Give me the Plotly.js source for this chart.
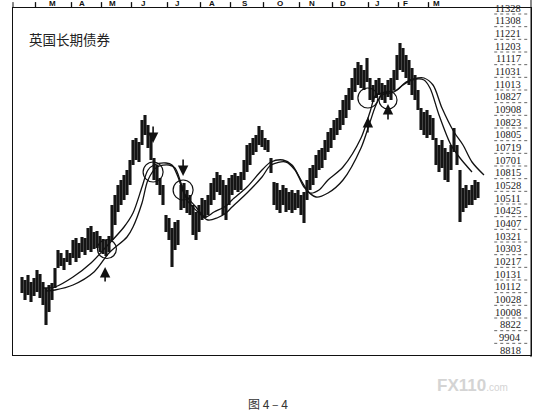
<!DOCTYPE html>
<html><head><meta charset="utf-8">
<script src="https://cdn.plot.ly/plotly-3.0.1.min.js"></script>
<style>html,body{margin:0;padding:0;background:#fff}#chart{width:546px;height:414px}</style>
</head><body><div id="chart"></div>
<script>
// Month letters along the top, month boundaries (bar index), label positions (bar index)
const months = ['M','A','M','J','J','A','S','O','N','D','J','F','M'];
const monthStart = [4.5,16.5,26.5,36.5,48.5,59.5,69.5,80.5,92.5,103.5,115.5,125.5,135.5];
const monthLabelAt = [10,20,30.3,40.3,51.7,63.3,74.3,86,96.7,107,118.3,127.7,138.3];

// Right-hand price column (top to bottom, as printed)
const priceLabels = ['11328','11308','11221','11203','11117','11031','11013','10827','10908','10823','10805','10719','10701','10815','10528','10511','10425','10407','10321','10303','10217','10131','10112','10028','10008','8822','9904','8818'];

// Bar highs / lows (chart units), one bar per index
const highs = [78,75,80,73,77,85,81,73,67,70,
72,87,105,102,97,105,102,115,117,112,
118,117,127,129,123,124,119,116,115,119,
150,160,170,175,180,185,195,215,217,213,
235,240,230,220,197,190,177,170,140,137,
127,133,135,170,172,165,160,150,143,150,
157,155,160,172,177,183,180,175,170,177,
180,182,179,183,195,210,212,217,220,229,
225,217,215,197,173,172,165,170,167,163,
165,162,165,160,163,175,187,190,200,205,
207,215,223,227,235,237,245,255,260,267,
277,287,293,290,285,297,277,270,275,277,
272,270,275,277,285,300,312,307,300,295,
287,280,265,247,243,245,240,237,217,210,
215,207,203,210,227,210,185,167,170,165,
170,175,173];
const lows = [62,55,60,53,59,63,57,50,30,43,
55,67,87,89,85,93,90,97,93,97,
103,100,105,103,106,107,103,101,99,103,
115,130,143,150,155,160,170,190,195,193,
210,220,207,195,175,170,160,150,123,115,
88,105,110,145,147,142,140,120,115,123,
135,137,140,150,155,163,160,140,135,150,
160,165,163,165,175,183,190,200,203,210,
208,205,203,182,150,145,142,150,143,145,
142,145,147,140,132,155,165,170,177,185,
187,195,203,207,215,220,225,230,237,245,
255,263,270,267,265,273,255,253,257,260,
255,252,258,255,265,275,285,283,277,270,
260,255,245,225,220,217,220,215,190,183,
187,175,173,185,203,190,133,143,147,150,
150,155,157];

// Two moving averages
const maAx = [7,11,17,23,28,34,37,40,42,44,48,50,52,54,58,61,64,68,70,75,80,83,87,90,93,96,99,102,107,113,116,118,122,125,128,132,134,137,140,144,147,150,154];
const maAv = [67,68,78,92,108,128,142,168,185,190,192,190,178,162,148,138,143,149,155,168,185,193,195,190,175,162,165,175,188,217,243,260,263,265,273,277,277,270,247,223,210,193,180];
const maBx = [8,11,17,24,29,35,37,40,42,45,49,51,53,55,59,62,65,68,70,75,80,83,88,91,94,98,102,107,113,116,118,120,124,127,130,134,136,139,143,146,150];
const maBv = [64,65,70,83,102,118,128,152,175,188,190,187,172,155,142,135,137,142,148,162,178,190,193,185,168,158,162,175,207,233,250,260,263,270,275,275,267,240,210,197,183];

// Circles and arrows drawn on the chart
const circX = [28.3,43.7,53.7,115.3,122];
const circV = [106,183,165,257,255];
const circR = [9.5,10,10,10,9];
const arrowX = [27.7,43.7,53.7,115.3,122];
const arrowHead = [88,212,179,238,251];
const arrowTail = [72,230,197,221,234];

const title = '英国长期债券';
const caption = '图 4 – 4';

// ---- build ----
const bx = [], by = [];
highs.forEach((h, i) => { bx.push(i, i, null); by.push(lows[i], h, null); });

const traces = [
  {x: bx, y: by, type: 'scatter', mode: 'lines', line: {color: '#151515', width: 3.1}, hoverinfo: 'skip', showlegend: false},
  {x: maAx, y: maAv, type: 'scatter', mode: 'lines', line: {color: '#111', width: 1.3, shape: 'spline', smoothing: 0.9}, showlegend: false},
  {x: maBx, y: maBv, type: 'scatter', mode: 'lines', line: {color: '#111', width: 1.3, shape: 'spline', smoothing: 0.9}, showlegend: false}
];

const pxPerX = 3; // plot width 518 px over 172.667 units
const shapes = [];
circX.forEach((cx, i) => {
  const r = circR[i];
  shapes.push({type: 'circle', xref: 'x', yref: 'y', x0: cx - r / pxPerX, x1: cx + r / pxPerX, y0: circV[i] - r, y1: circV[i] + r, line: {color: '#111', width: 1.2}});
});
const labelPos = priceLabels.map((_, i) => 347 - (342 / 27) * i);
labelPos.forEach((v, i) => {
  if (i < labelPos.length - 1) shapes.push({type: 'line', xref: 'paper', yref: 'y', x0: 0.929, x1: 0.994, y0: v - 6, y1: v - 6, line: {color: '#666', width: 1, dash: 'dot'}});
});
monthStart.forEach(m => shapes.push({type: 'line', xref: 'x', yref: 'paper', x0: m, x1: m, y0: 1, y1: 1.017, line: {color: '#111', width: 1.3}}));
shapes.push({type: 'line', xref: 'paper', yref: 'paper', x0: 1, x1: 1, y0: -0.006, y1: 1.023, line: {color: '#111', width: 1}});
shapes.push({type: 'line', xref: 'paper', yref: 'paper', x0: 0, x1: 0, y0: 1, y1: 1.017, line: {color: '#111', width: 1}});

const annotations = [];
months.forEach((m, i) => annotations.push({x: monthLabelAt[i], xref: 'x', y: 1, yref: 'paper', yanchor: 'bottom', yshift: -2, text: m, showarrow: false, font: {family: 'Liberation Sans, Arial, sans-serif', size: 8, color: '#111', weight: 'bold'}}));
priceLabels.forEach((t, i) => annotations.push({x: 0.985, xref: 'paper', xanchor: 'right', y: labelPos[i], yref: 'y', yanchor: 'middle', text: t, showarrow: false, font: {family: 'Liberation Serif, Times New Roman, serif', size: 10.5, color: '#222'}}));
arrowX.forEach((x, i) => annotations.push({x: x, y: arrowHead[i], ax: x, ay: arrowTail[i], xref: 'x', yref: 'y', axref: 'x', ayref: 'y', text: '', showarrow: true, arrowhead: 2, arrowsize: 1.3, arrowwidth: 1.6, arrowcolor: '#111', standoff: 0}));
annotations.push({x: 0.027, xref: 'paper', xanchor: 'left', y: 0.911, yref: 'paper', yanchor: 'middle', text: title, showarrow: false, font: {family: 'Noto Sans CJK SC, sans-serif', size: 13.5, color: '#222'}});
annotations.push({x: 0.4923, xref: 'paper', xanchor: 'center', y: -0.141, yref: 'paper', yanchor: 'middle', text: caption, showarrow: false, font: {family: 'Noto Sans CJK SC, sans-serif', size: 12, color: '#333'}});
annotations.push({x: 0.888, xref: 'paper', xanchor: 'center', y: -0.0865, yref: 'paper', yanchor: 'middle', text: '<b>FX110</b><span style="font-size:10px">.com</span>', showarrow: false, font: {family: 'Liberation Sans, Arial, sans-serif', size: 17, color: '#d4d4d4'}});

const layout = {
  width: 546, height: 414,
  margin: {l: 13, r: 15, t: 8, b: 59},
  paper_bgcolor: '#fff', plot_bgcolor: '#fff',
  showlegend: false,
  xaxis: {range: [-3, 169.667], showticklabels: false, ticks: '',
          showline: true, mirror: true, linecolor: '#111', linewidth: 1, showgrid: false, zeroline: false, fixedrange: true},
  yaxis: {range: [0, 347], showticklabels: false, ticks: '', showline: true, mirror: true, linecolor: '#111', linewidth: 1, showgrid: false, zeroline: false, fixedrange: true},
  shapes: shapes,
  annotations: annotations
};

Plotly.newPlot('chart', traces, layout, {displayModeBar: false, staticPlot: true});
</script>
</body></html>
